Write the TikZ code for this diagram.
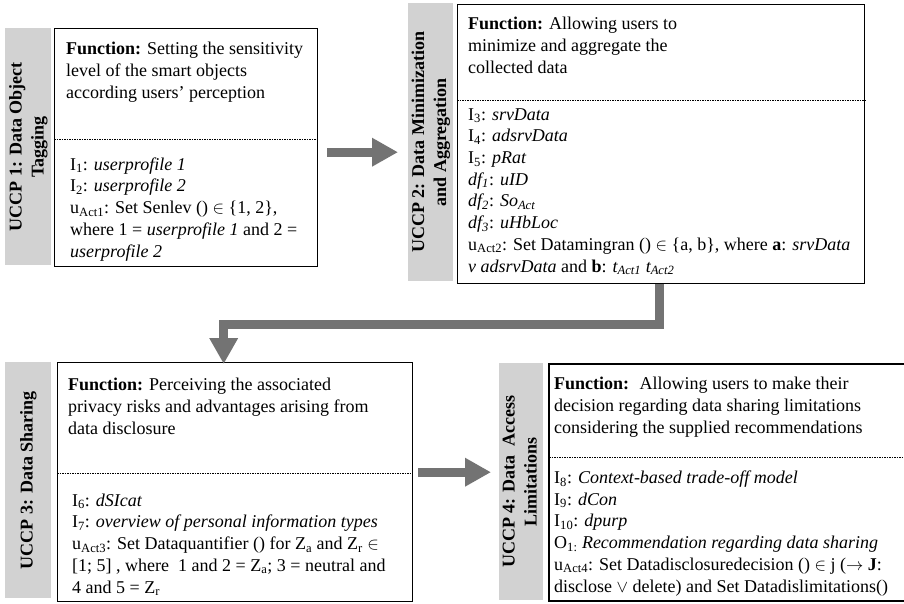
\documentclass[tikz,border=0pt]{standalone}
\usepackage{fontspec}
\setmainfont{Liberation Serif}
\usepackage{graphicx}
\usetikzlibrary{arrows.meta,calc}
\definecolor{arrowgrey}{HTML}{737373}
\definecolor{stripgrey}{HTML}{D2D2D2}
\tikzset{
  box/.style={draw=black, line width=1.4pt, fill=white, anchor=north west, inner sep=0pt},
  strip/.style={fill=stripgrey, draw=none, anchor=north west, inner sep=0pt,
     font={\fontsize{18}{22}\selectfont\bfseries}},
  dashline/.style={line width=0.7pt, dash pattern=on 1.5pt off 1pt},
  txt/.style={anchor=base west, inner sep=0pt, align=left, font={\fontsize{18}{21.7}\selectfont}},
  bigarrow/.style={draw=arrowgrey, line width=9pt, line join=miter,
     -{Triangle[length=26pt,width=27pt]}, arrowgrey}
}
\newcommand{\vlab}[1]{\rotatebox{90}{\begin{tabular}{@{}c@{}}#1\end{tabular}}}
\begin{document}
\begin{tikzpicture}[x=1pt,y=-1pt]
\useasboundingbox[fill=white] (0,0) rectangle (904,603);

% panel 1
\node[strip, minimum width=46pt, minimum height=237pt] (s1) at (5,28) {\vlab{UCCP 1: Data Object\\Tagging}};
\node[box, minimum width=263pt, minimum height=238pt] (box1) at (54,28) {};
\draw[dashline] (box1.west |- 0,139) -- (box1.east |- 0,139);
\node[txt] (t1) at (66,98) {\textbf{Function:} Setting the sensitivity\\level of the smart objects\\according users’ perception};
\node[txt] (b1) at (70,257) {I\textsubscript{1}: \textit{userprofile 1}\\I\textsubscript{2}: \textit{userprofile 2}\\u\textsubscript{Act1}: Set Senlev () $\in$ \{1, 2\},\\where 1 = \textit{userprofile 1} and 2 =\\\textit{userprofile 2}};

% panel 2
\node[strip, minimum width=45pt, minimum height=278pt] (s2) at (408,3) {\vlab{UCCP 2: Data Minimization\\and Aggregation}};
\node[box, minimum width=407pt, minimum height=279pt] (box2) at (457,4) {};
\draw[dashline] (box2.west |- 0,100) -- (box2.east |- 0,100);
\node[txt] (t2) at (468,73) {\textbf{Function:} Allowing users to\\minimize and aggregate the\\collected data};
\node[txt] (b2) at (468,272) {I\textsubscript{3}: \textit{srvData}\\I\textsubscript{4}: \textit{adsrvData}\\I\textsubscript{5}: \textit{pRat}\\\textit{df\textsubscript{1}}: \textit{uID}\\\textit{df\textsubscript{2}}: \textit{So\textsubscript{Act}}\\\textit{df\textsubscript{3}}: \textit{uHbLoc}\\u\textsubscript{Act2}: Set Datamingran () $\in$ \{a, b\}, where \textbf{a}: \textit{srvData}\\\textit{v adsrvData} and \textbf{b}: \textit{t\textsubscript{Act1} t\textsubscript{Act2}}};

% panel 3
\node[strip, minimum width=46pt, minimum height=236pt] (s3) at (5,362) {\vlab{UCCP 3: Data Sharing}};
\node[box, minimum width=355pt, minimum height=239pt] (box3) at (57,362) {};
\draw[dashline] (box3.west |- 0,473) -- (box3.east |- 0,473);
\node[txt] (t3) at (68,434) {\textbf{Function:} Perceiving the associated\\privacy risks and advantages arising from\\data disclosure};
\node[txt] (b3) at (72,593) {I\textsubscript{6}: \textit{dSIcat}\\I\textsubscript{7}: \textit{overview of personal information types}\\u\textsubscript{Act3}: Set Dataquantifier () for Z\textsubscript{a} and Z\textsubscript{r} $\in$\\{[}1; 5{]} , where~ 1 and 2 = Z\textsubscript{a}; 3 = neutral and\\4 and 5 = Z\textsubscript{r}};

% panel 4
\node[strip, minimum width=44pt, minimum height=237pt] (s4) at (499,363) {\vlab{UCCP 4: Data~ Access\\Limitations}};
\coordinate (box4nw) at (549,364);
\coordinate (box4sw) at (549,601);
\draw[line width=1.4pt] (904,364) -- (box4nw) -- (box4sw) -- (904,601);
\draw[dashline] (box4nw |- 0,457) -- (904,457);
\node[txt] (t4) at (554,433) {\textbf{Function:}~ Allowing users to make their\\decision regarding data sharing limitations\\considering the supplied recommendations};
\node[txt] (b4) at (554,592) {I\textsubscript{8}: \textit{Context-based trade-off model}\\I\textsubscript{9}: \textit{dCon}\\I\textsubscript{10}: \textit{dpurp}\\O\textsubscript{1:} \textit{Recommendation regarding data sharing}\\u\textsubscript{Act4}: Set Datadisclosuredecision () $\in$ j ($\rightarrow$ \textbf{J}:\\disclose $\vee$ delete) and Set Datadislimitations()};

% arrows
\draw[bigarrow, shorten <=9pt, shorten >=10pt] ([yshift=-4.5pt]box1.east) -- ([yshift=-4.5pt]box1.east -| s2.west);
\draw[bigarrow] ([xshift=-1.5pt]box2.south) -- ++(0,40) -| ([xshift=-11.5pt,yshift=-2pt]box3.north);
\draw[bigarrow, shorten <=5pt, shorten >=8pt] ([yshift=10pt]box3.east) -- ([yshift=10pt]box3.east -| s4.west);
\end{tikzpicture}
\end{document}
